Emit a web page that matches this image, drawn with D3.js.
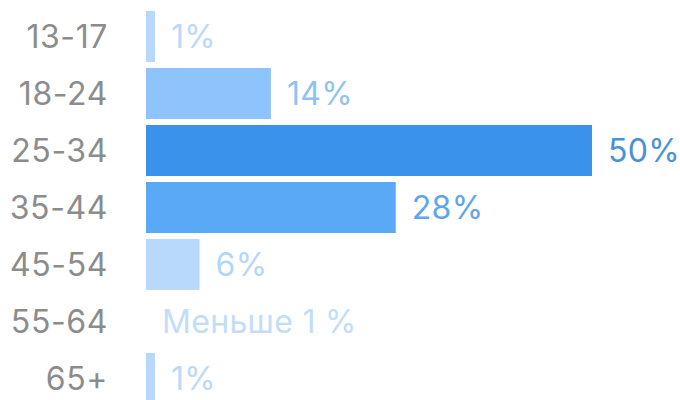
<!DOCTYPE html>
<html><head><meta charset="utf-8">
<script src="https://cdn.jsdelivr.net/npm/d3@7"></script>
<style>html,body{margin:0;padding:0;background:#fff;}svg{display:block;}</style>
</head><body>
<svg id="chart" width="680" height="400"></svg>
<script>
const categories = ["13-17","18-24","25-34","35-44","45-54","55-64","65+"];
const values = [1, 14, 50, 28, 6, 0, 1];
const valueLabels = ["1%","14%","50%","28%","6%","Меньше 1 %","1%"];
const barColors = ["#b6d8fb","#8ec4fb","#3b92ea","#5aa9f6","#b8d9fb","#b8d9fb","#b6d8fb"];
const labelColors = ["#bcdaf6","#8fc3f4","#4a90da","#5ba6ee","#b6d6f6","#c3ddf7","#bcdaf6"];

const svg = d3.select("#chart");
const x = d3.scaleLinear().domain([0, 50]).range([146, 592]);
const y = d3.scaleBand().domain(categories).range([11, 404]).paddingInner(6/57).paddingOuter(0);
const data = categories.map((c,i)=>({c, v: values[i], label: valueLabels[i], bc: barColors[i], lc: labelColors[i]}));

const font = "Inter, 'Noto Sans', sans-serif";
svg.selectAll("rect.bar").data(data).enter().append("rect")
  .attr("class","bar")
  .attr("x", x(0))
  .attr("y", d => y(d.c))
  .attr("width", d => x(d.v) - x(0))
  .attr("height", y.bandwidth())
  .attr("fill", d => d.bc);

svg.selectAll("text.cat").data(data).enter().append("text")
  .attr("class","cat")
  .attr("x", 108)
  .attr("y", d => y(d.c) + y.bandwidth()/2)
  .attr("dy","0.36em")
  .attr("text-anchor","end")
  .attr("font-family", font)
  .attr("font-size", 32)
  .attr("font-weight", 400)
  .attr("letter-spacing", 0.6)
  .attr("fill", "#8c8c8c")
  .text(d => d.c);

svg.selectAll("text.val").data(data).enter().append("text")
  .attr("class","val")
  .attr("x", d => x(d.v) + 16)
  .attr("y", d => y(d.c) + y.bandwidth()/2)
  .attr("dy","0.36em")
  .attr("font-family", font)
  .attr("font-size", 32)
  .attr("font-weight", 400)
  .attr("letter-spacing", 0.3)
  .attr("fill", d => d.lc)
  .text(d => d.label);
</script>
</body></html>
